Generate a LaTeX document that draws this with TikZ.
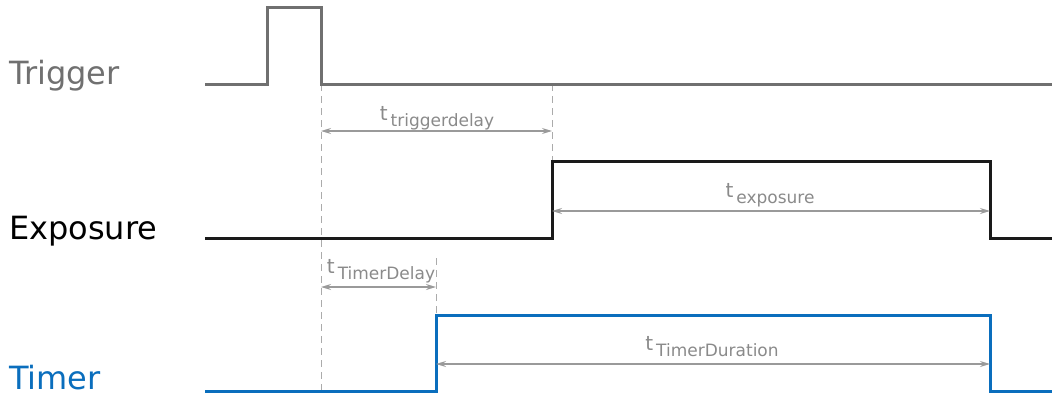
\documentclass[tikz,border=0pt]{standalone}
\usepackage{fontspec}
\setmainfont{DejaVu Sans}
\usetikzlibrary{arrows.meta}
\definecolor{trgray}{HTML}{707070}
\definecolor{expblack}{HTML}{1A1A1A}
\definecolor{timblue}{HTML}{0A6EBD}
\definecolor{dimgray}{HTML}{9A9A9A}
\definecolor{txtgray}{HTML}{8A8A8A}
\definecolor{dashgray}{HTML}{ABABAB}
\tikzset{
  sig/.style={line width=3pt, line join=miter},
  guide/.style={draw=dashgray, line width=1pt, dash pattern=on 7pt off 5pt},
  dim/.style={draw=dimgray, line width=1.3pt, {Stealth[length=10pt,width=6pt]}-{Stealth[length=10pt,width=6pt]}},
  siglabel/.style={anchor=base west, inner sep=0pt, font=\fontsize{32}{32}\selectfont},
  dimlabel/.style={anchor=base, inner sep=0pt, text=txtgray, font=\fontsize{20}{20}\selectfont}
}
\newcommand{\tsub}[1]{t\hspace{3pt}{\fontsize{17}{17}\selectfont\raisebox{-6pt}{#1}}}
\begin{document}
\begin{tikzpicture}[x=1pt,y=-1pt]
\useasboundingbox (0,0) rectangle (1056,396);
% coordinates
\coordinate (t0) at (205,84);
\coordinate (t1) at (267,84);
\coordinate (t2) at (267,8);
\coordinate (t3) at (321,8);
\coordinate (t4) at (321,84);
\coordinate (t5) at (1052,84);
\coordinate (e0) at (205,238);
\coordinate (e1) at (552,238);
\coordinate (e2) at (552,161);
\coordinate (e3) at (990,161);
\coordinate (e4) at (990,238);
\coordinate (e5) at (1052,238);
\coordinate (m0) at (205,391);
\coordinate (m1) at (436,391);
\coordinate (m2) at (436,315);
\coordinate (m3) at (990,315);
\coordinate (m4) at (990,391);
\coordinate (m5) at (1052,391);
\coordinate (g1b) at (321,391);
\coordinate (g2a) at (552,84);
\coordinate (g3a) at (436,258);
% dashed guides
\draw[guide] (t4) -- (g1b);
\draw[guide] (g2a) -- (e2);
\draw[guide] (g3a) -- (m2);
% signals
\draw[sig, trgray] (t0) -- (t1) -- (t2) -- (t3) -- (t4) -- (t5);
\draw[sig, expblack] (e0) -- (e1) -- (e2) -- (e3) -- (e4) -- (e5);
\draw[sig, timblue] (m0) -- (m1) -- (m2) -- (m3) -- (m4) -- (m5);
% labels
\node[siglabel, text=trgray] (ltrig) at (9,84) {Trigger};
\node[siglabel, text=black] (lexp) at (9,239) {Exposure};
\node[siglabel, text=timblue] (ltim) at (9,389) {Timer};
% dimension arrows
\coordinate (d1a) at (321,131); \coordinate (d1b) at (552,131);
\coordinate (d2a) at (552,211); \coordinate (d2b) at (990,211);
\coordinate (d3a) at (321,287); \coordinate (d3b) at (436,287);
\coordinate (d4a) at (436,364); \coordinate (d4b) at (990,364);
\draw[dim] (d1a) -- (d1b);
\draw[dim] (d2a) -- (d2b);
\draw[dim] (d3a) -- (d3b);
\draw[dim] (d4a) -- (d4b);
\node[dimlabel] (n1) at (437,120) {\tsub{triggerdelay}};
\node[dimlabel] (n2) at (770,197) {\tsub{exposure}};
\node[dimlabel] (n3) at (381,273) {\tsub{TimerDelay}};
\node[dimlabel] (n4) at (712,350) {\tsub{TimerDuration}};
\end{tikzpicture}
\end{document}
